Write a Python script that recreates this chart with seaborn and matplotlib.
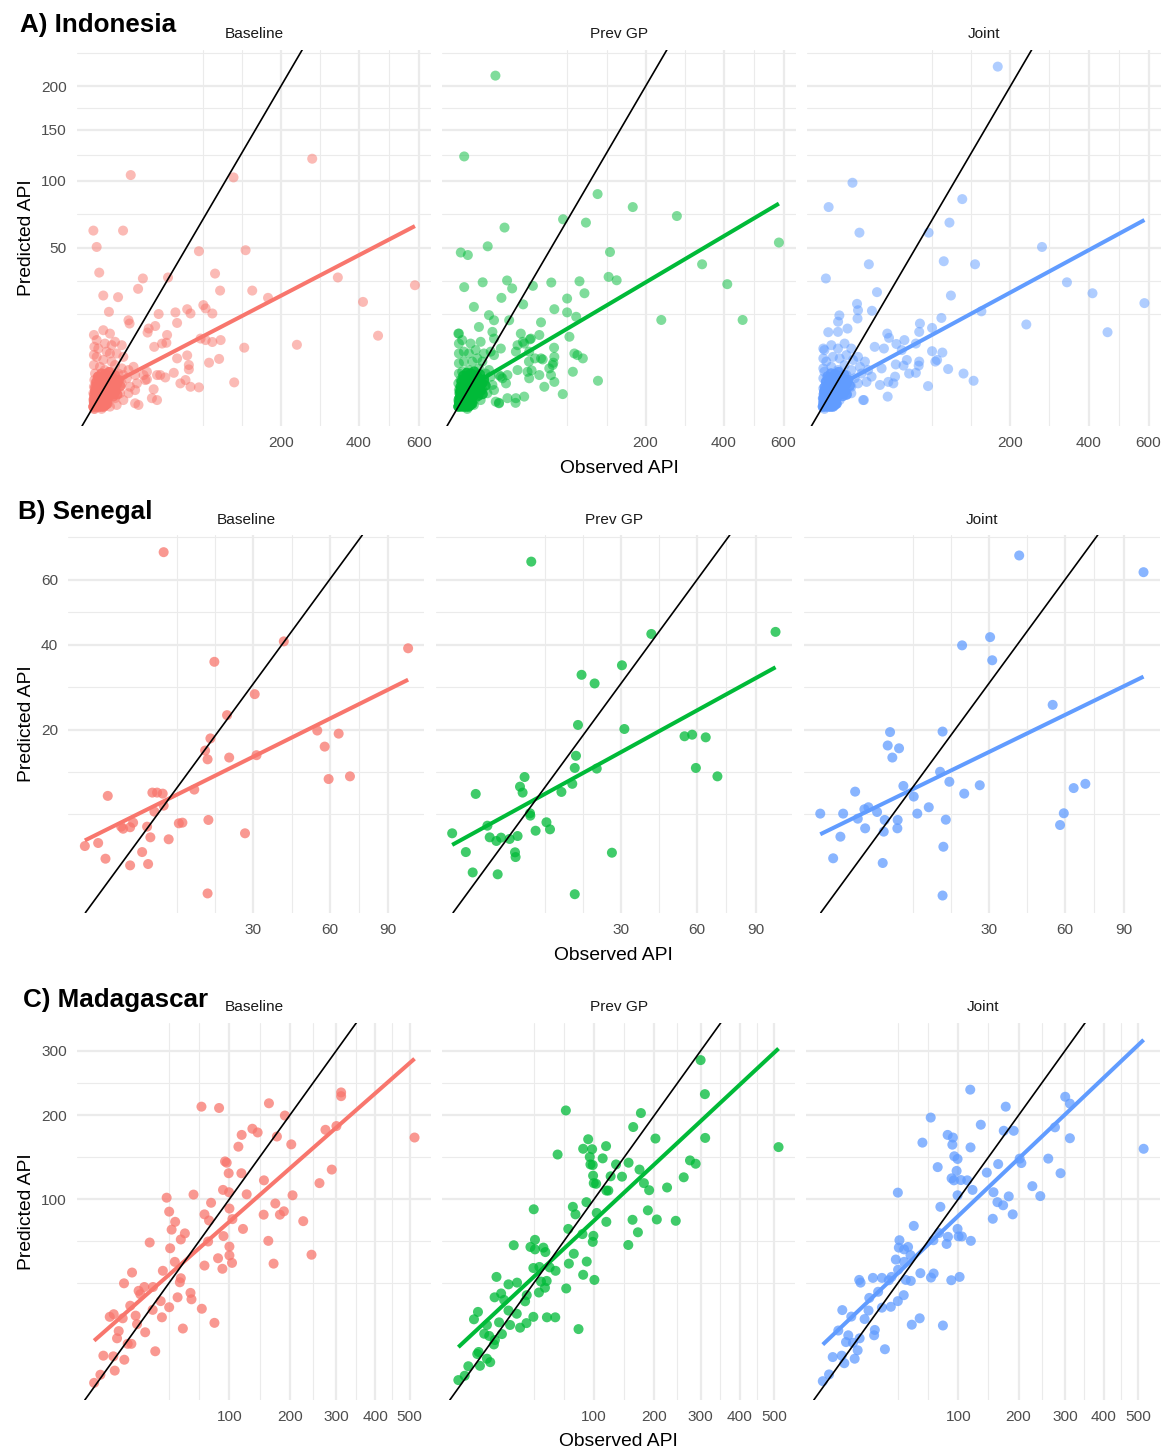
import numpy as np
import matplotlib
matplotlib.use("Agg")
import matplotlib.pyplot as plt
import seaborn as sns

sns.set_theme(style="white")
plt.rcParams['font.family'] = ['Liberation Sans', 'DejaVu Sans']

W, H = 1172, 1450
models = ["Baseline", "Prev GP", "Joint"]
colours = ["#F8766D", "#00BA38", "#619CFF"]

# (observed, predicted) pairs
indo_base = [
    (272, 120.3), (8.4, 105.1), (112.3, 103.0), (0.01, 61.1), (5.4, 61.1), (0.12, 50.4), (64.1, 47.8),
    (132.3, 48.4), (339, 33.2), (585, 29.4), (0.29, 35.7), (14.5, 32.7), (32.4, 33.2), (84.9, 35.2),
    (11.9, 27.7), (92.0, 26.9), (144, 26.9), (173.8, 23.7), (412, 22.0), (0.71, 24.7), (3.8, 24.0),
    (459, 10.3), (235.5, 7.9),
    (1.6, 18.1), (7.45, 15.1), (7.9, 14.0), (24.9, 17.3), (22.4, 13.2), (39.0, 17.9), (40.6, 14.2),
    (50.8, 19.1), (54.4, 17.5), (69.5, 20.7), (72.4, 19.4), (81.2, 17.5), (18.0, 12.4), (17.3, 11.2),
    (31.6, 10.5), (27.5, 8.2), (21.7, 7.4), (31.0, 8.4), (40.6, 4.9), (50.8, 5.5), (52.6, 3.7), (52.6, 3.0),
    (66.1, 9.5), (72.4, 9.1), (81.2, 8.6), (92.8, 9.1), (130, 7.2), (76.8, 4.1), (90.6, 4.8), (113.4, 1.35),
    (43.8, 1.25), (54.4, 0.94), (64.1, 0.89), (49.0, 1.6), (37.5, 2.5), (26.1, 2.2), (30.1, 1.9), (23.7, 2.2),
    (16.9, 1.68), (21.3, 0.74), (20.1, 0.22), (23.7, 0.15), (10.4, 0.06), (12.1, 0.03), (14.9, 2.2),
    (15.9, 1.6), (16.9, 2.65),
    (7.45, 2.9), (6.8, 1.8), (8.1, 0.94), (7.45, 0.47), (9.65, 3.4), (10.4, 2.2), (11.3, 1.25), (10.4, 0.68),
    (4.95, 7.8), (5.5, 5.2), (4.95, 3.15), (5.5, 2.2), (4.95, 1.25), (4.4, 0.47), (5.5, 0.15),
    (2.96, 8.65), (3.41, 5.9), (2.96, 3.7), (3.9, 2.4), (3.41, 1.4), (3.2, 0.68), (2.96, 0.22), (3.41, 0.03),
    (1.8, 10.9), (2.16, 7.8), (1.8, 5.9), (2.16, 4.3), (1.8, 2.65), (2.16, 1.8), (1.8, 0.94), (1.8, 0.47),
    (1.49, 0.15), (1.8, 0.01),
    (0.71, 11.9), (0.93, 8.2), (1.2, 6.3), (0.71, 4.6), (0.93, 2.9), (0.71, 1.6), (0.71, 0.81), (0.93, 0.37),
    (0.71, 0.1), (0.51, 0.0),
    (0.12, 9.1), (0.22, 7.0), (0.12, 5.2), (0.35, 3.4), (0.22, 2.0), (0.12, 1.25), (0.22, 0.68), (0.15, 0.29),
    (0.08, 0.06), (0.04, 0.0),
    (0.02, 10.5), (0.03, 7.4), (0.02, 5.6), (0.02, 3.7), (0.05, 2.4), (0.03, 1.6), (0.02, 0.94), (0.01, 0.47),
    (0.01, 0.15), (0.01, 0.01), (0.02, 0.0),
]
# the solid blob at the origin: each spot holds several overlapping points
indo_base_core = [
    (0.05, 0.02), (0.1, 0.05), (0.2, 0.1), (0.3, 0.02), (0.4, 0.2), (0.5, 0.08), (0.6, 0.3), (0.8, 0.15),
    (1.0, 0.4), (1.1, 0.05), (1.3, 0.25), (1.5, 0.6), (0.15, 0.45), (0.25, 0.7), (0.35, 0.9), (0.45, 1.1),
    (0.6, 0.55), (0.7, 0.75), (0.9, 1.0), (1.2, 0.85), (1.6, 1.2), (2.0, 0.9), (2.4, 1.3), (2.8, 1.0),
    (0.1, 1.4), (0.3, 1.7), (0.5, 1.3), (0.8, 1.9), (1.1, 1.5), (1.4, 2.1), (1.8, 1.6), (2.2, 2.0),
    (2.6, 1.7), (3.0, 1.4), (3.5, 1.2), (4.0, 1.6), (0.05, 0.6), (0.08, 0.3), (0.12, 0.8), (0.2, 1.0),
    (0.4, 0.45), (0.55, 0.65), (0.75, 0.35), (0.95, 0.6), (1.25, 0.45), (1.7, 0.35), (2.1, 0.55), (2.5, 0.3),
    (3.1, 0.6), (3.6, 0.4), (0.02, 0.2), (0.03, 0.4), (0.06, 0.9), (0.18, 0.3), (0.28, 0.55), (0.65, 0.12),
    (0.85, 0.5), (1.05, 0.8), (1.35, 1.0), (1.9, 0.75), (2.3, 0.45), (2.7, 0.8), (0.4, 1.5), (0.7, 1.2),
    (1.0, 2.3), (0.2, 2.0), (0.5, 2.4), (1.6, 2.6), (2.9, 2.2), (4.5, 1.0),
]
indo_prev = [
    (8.3, 213.5), (0.29, 122.5), (111.2, 88.7), (173.8, 78.3), (272, 71.5), (63.3, 69.1), (93.5, 66.7),
    (12.7, 63.2), (5.3, 50.8), (0.08, 47.0), (0.66, 45.5), (131.7, 47.3), (583, 53.2), (338, 40.2),
    (411, 29.9), (459, 15.2), (234.8, 15.2), (129.3, 33.5), (143.4, 31.8), (0.29, 28.5), (3.7, 30.8),
    (14.1, 31.7), (17.1, 27.9), (32.4, 29.1), (50.0, 30.7), (84.4, 31.3), (91.4, 25.7), (11.1, 23.7),
    (24.6, 21.0), (68.2, 23.4),
    (1.6, 20.0), (5.75, 16.9), (7.7, 15.1), (2.7, 12.9), (7.05, 11.4), (7.7, 9.5), (10.8, 7.0), (15.3, 15.1),
    (22.9, 10.9), (30.7, 9.5), (38.1, 10.5), (20.6, 7.8), (25.4, 8.2), (19.5, 6.3), (29.3, 6.3), (20.6, 2.9),
    (28.0, 2.65), (29.3, 1.8), (38.1, 2.2), (39.7, 4.9), (47.9, 3.15), (51.5, 3.7), (53.3, 5.2), (49.7, 2.2),
    (42.9, 0.94), (53.3, 1.4), (19.5, 0.22), (25.4, 0.29), (14.3, 0.22), (77.5, 5.9), (89.1, 4.9),
    (75.5, 2.65), (111.8, 1.52), (62.9, 0.42), (71.1, 10.0), (79.9, 16.3), (39.7, 14.4), (53.3, 19.1),
    (68.2, 17.9), (0.01, 10.9), (53, 7.2), (52.2, 4.1), (41.3, 4.7), (29.1, 4.3), (34.2, 4.9), (24.4, 8.65),
    (29.9, 9.3), (31.3, 2.85), (19.3, 0.07), (9.9, 0.07), (13.5, 1.25), (10.8, 2.0), (81.6, 5.56),
    (0.02, 10.9), (0.02, 8.2), (0.02, 5.9), (0.02, 4.0), (0.02, 2.4), (0.01, 1.25), (0.02, 0.68), (0.01, 0.15),
    (0.01, 0.01),
    (0.15, 9.1), (0.26, 6.3), (0.26, 4.3), (0.15, 2.65), (0.07, 1.6), (0.26, 0.81), (0.15, 0.29), (0.07, 0.03),
    (1.04, 8.2), (0.79, 5.9), (1.31, 4.3), (0.79, 2.9), (1.04, 1.8), (0.79, 0.94), (1.04, 0.47), (0.79, 0.1),
    (0.59, 0.0),
    (1.95, 6.65), (2.32, 4.9), (2.7, 3.15), (2.32, 2.0), (1.95, 1.1), (2.32, 0.68), (1.95, 0.22), (1.6, 0.03),
    (3.14, 8.65), (4.08, 5.9), (3.61, 4.3), (4.62, 2.4), (4.08, 1.4), (3.61, 0.68), (3.14, 0.15),
    (5.75, 2.9), (6.38, 2.0), (7.05, 1.1), (5.19, 0.47), (8.43, 0.1), (9.94, 0.06), (7.7, 0.68), (6.38, 6.3),
    (7.7, 5.56), (9.94, 2.2), (11.6, 1.8), (14.3, 2.2),
]
indo_prev_core = [
    (0.04, 0.03), (0.12, 0.08), (0.22, 0.15), (0.35, 0.04), (0.45, 0.25), (0.55, 0.1), (0.65, 0.35),
    (0.85, 0.2), (1.05, 0.45), (1.15, 0.08), (1.35, 0.3), (1.55, 0.7), (0.18, 0.5), (0.28, 0.75),
    (0.38, 0.95), (0.5, 1.15), (0.62, 0.6), (0.75, 0.8), (0.95, 1.05), (1.25, 0.9), (1.65, 1.25),
    (2.05, 0.95), (2.45, 1.35), (2.85, 1.05), (0.12, 1.45), (0.32, 1.75), (0.52, 1.35), (0.82, 2.0),
    (1.15, 1.55), (1.45, 2.2), (1.85, 1.65), (2.25, 2.05), (2.65, 1.75), (3.05, 1.45), (3.55, 1.25),
    (4.1, 1.65), (0.06, 0.65), (0.09, 0.32), (0.14, 0.85), (0.24, 1.05), (0.42, 0.48), (0.58, 0.7),
    (0.78, 0.38), (0.98, 0.65), (1.28, 0.5), (1.75, 0.4), (2.15, 0.6), (2.55, 0.33), (3.15, 0.65),
    (3.7, 0.42), (0.03, 0.22), (0.04, 0.45), (0.07, 0.95), (0.2, 0.33), (0.3, 0.6), (0.68, 0.14),
    (0.88, 0.55), (1.08, 0.85), (1.4, 1.05), (1.95, 0.8), (2.35, 0.5), (2.75, 0.85), (0.42, 1.55),
    (0.72, 1.25), (1.05, 2.4), (0.22, 2.1), (0.55, 2.5), (1.65, 2.7), (3.0, 2.3), (4.6, 1.05),
]
indo_joint = [
    (174.3, 225.2), (5.4, 98.3), (0.29, 78.3), (111.2, 84.6), (91.9, 66.7), (8.1, 59.7), (64.4, 59.7),
    (272.8, 50.4), (12.6, 40.2), (83.9, 41.9), (132.3, 40.2), (0.11, 32.7), (17.3, 26.2), (94, 24.7),
    (338, 30.8), (412, 25.7), (585, 21.5), (235.4, 13.7), (459, 11.3), (7.1, 21.2), (7.5, 18.7), (7.3, 15.7),
    (14.3, 18.5), (1.8, 16.8), (1.55, 14.6), (3.8, 12.4), (0.26, 11.3), (1.53, 11.4), (143.5, 18.3),
    (80.7, 15.9), (54.4, 14.0), (53.6, 11.4), (68.6, 12.6), (24.3, 10.9), (25.6, 9.7), (31.5, 8.1),
    (38.6, 9.1), (50.0, 8.2), (68.6, 6.4), (82.0, 6.1), (75.0, 4.6), (90.0, 3.05), (113.2, 2.4),
    (129.8, 1.52), (63.7, 1.0), (24.6, 0.29), (10.1, 0.15), (15.9, 7.4), (21.9, 7.0), (40.9, 4.6),
    (53.6, 4.3), (53, 3.6), (50, 2.5), (31.0, 3.8), (20.3, 3.15), (29.0, 1.25), (19.2, 1.1), (43.1, 2.4),
    (37.8, 3.6), (36.2, 6.65), (30.4, 2.0), (25.1, 1.4), (72.8, 4.3),
    (0.02, 7.0), (0.02, 4.9), (0.02, 3.15), (0.02, 1.8), (0.02, 0.81), (0.01, 0.22), (0.01, 0.01),
    (0.05, 6.65), (0.13, 4.3), (0.05, 2.65), (0.13, 1.4), (0.05, 0.57), (0.13, 0.1), (0.05, 0.0),
    (0.55, 7.8), (0.74, 5.2), (0.55, 3.4), (0.74, 2.0), (0.55, 0.94), (0.74, 0.29), (0.55, 0.01),
    (1.53, 7.0), (1.86, 4.9), (1.53, 2.9), (1.86, 1.6), (1.53, 0.68), (1.86, 0.15),
    (3.0, 8.2), (3.5, 5.56), (3.0, 3.7), (3.5, 2.2), (3.0, 1.1), (3.5, 0.37),
    (5.0, 7.0), (5.6, 4.6), (5.0, 2.9), (6.2, 1.8), (5.0, 0.94),
    (7.5, 5.2), (8.3, 3.4), (9.0, 2.4), (7.5, 1.25),
    (10.6, 4.3), (12.2, 2.9), (14.1, 2.0), (11.4, 1.4), (9.75, 0.15), (5.0, 0.47),
]
indo_joint_core = [
    (0.06, 0.02), (0.11, 0.06), (0.21, 0.12), (0.32, 0.03), (0.42, 0.22), (0.52, 0.09), (0.62, 0.32),
    (0.82, 0.17), (1.02, 0.42), (1.12, 0.06), (1.32, 0.27), (1.52, 0.62), (0.16, 0.47), (0.26, 0.72),
    (0.36, 0.92), (0.47, 1.12), (0.61, 0.57), (0.72, 0.77), (0.92, 1.02), (1.22, 0.87), (1.62, 1.22),
    (2.02, 0.92), (2.42, 1.32), (2.82, 1.02), (0.11, 1.42), (0.31, 1.72), (0.51, 1.32), (0.81, 1.92),
    (1.12, 1.52), (1.42, 2.12), (1.82, 1.62), (2.22, 2.02), (2.62, 1.72), (3.02, 1.42), (3.52, 1.22),
    (4.05, 1.62), (0.05, 0.62), (0.08, 0.31), (0.13, 0.82), (0.21, 1.02), (0.41, 0.46), (0.56, 0.67),
    (0.76, 0.36), (0.96, 0.62), (1.26, 0.47), (1.72, 0.37), (2.12, 0.57), (2.52, 0.31), (3.12, 0.62),
    (3.62, 0.41), (0.02, 0.21), (0.03, 0.42), (0.06, 0.92), (0.19, 0.31), (0.29, 0.57), (0.66, 0.13),
    (0.86, 0.52), (1.06, 0.82), (1.36, 1.02), (1.92, 0.77), (2.32, 0.47), (2.72, 0.82), (0.41, 1.52),
    (0.71, 1.22), (1.02, 2.32), (0.21, 2.02), (0.52, 2.42), (1.62, 2.62), (2.92, 2.22), (4.52, 1.02),
]
# the fully saturated corner right at the origin (near-zero in every model)
indo_corner = [
    (0.01, 0.01), (0.05, 0.02), (0.1, 0.01), (0.15, 0.05), (0.2, 0.02), (0.3, 0.08), (0.4, 0.03),
    (0.5, 0.1), (0.6, 0.02), (0.7, 0.06), (0.8, 0.12), (0.9, 0.04), (0.02, 0.08), (0.06, 0.15),
    (0.12, 0.1), (0.25, 0.18), (0.35, 0.12), (0.45, 0.2), (0.55, 0.05), (0.65, 0.15), (0.75, 0.22),
    (0.85, 0.09), (1.0, 0.03), (1.2, 0.1), (0.03, 0.03), (0.08, 0.05), (0.18, 0.02), (0.28, 0.01),
    (0.38, 0.07), (0.48, 0.01), (0.58, 0.12), (0.68, 0.04), (0.78, 0.01), (0.95, 0.14), (1.1, 0.2),
    (1.3, 0.05), (0.04, 0.12), (0.09, 0.22), (0.22, 0.25), (0.33, 0.2),
]
indo_core_count = 3  # overlapping points per spot in the blob

sen_base = [
    (7.86, 69.6), (40.7, 40.9), (101.6, 39.0), (18.6, 35.4), (30.4, 27.5), (22.0, 22.9), (54.4, 19.8),
    (64.2, 19.2), (17.6, 18.3), (16.3, 16.1), (57.7, 16.8), (16.9, 14.6), (22.6, 14.9), (31.0, 15.3),
    (59.5, 11.5), (69.7, 11.9), (1.30, 9.14), (6.09, 9.58), (6.80, 9.58), (7.70, 9.44), (13.8, 9.99),
    (7.86, 7.90), (6.39, 7.18), (2.37, 5.53), (3.26, 5.47), (3.59, 5.95), (2.55, 5.32), (5.34, 5.53),
    (10.6, 5.88), (11.3, 5.95), (17.1, 6.24), (5.80, 4.49), (8.72, 4.31), (27.3, 4.87), (0.21, 3.72),
    (0.73, 3.98), (1.15, 2.73), (4.68, 3.23), (3.26, 2.27), (5.48, 2.36), (16.9, 0.80),
]
sen_prev = [
    (7.86, 66.2), (40.7, 43.0), (101.6, 43.6), (30.3, 34.5), (18.5, 32.1), (22.0, 30.0), (17.6, 20.9),
    (31.1, 20.1), (54.3, 18.7), (57.7, 19.0), (64.0, 18.5), (17.1, 15.2), (16.8, 13.2), (22.6, 13.1),
    (59.4, 13.2), (69.7, 11.9), (6.78, 11.8), (6.09, 10.4), (6.48, 9.58), (16.2, 10.8), (13.7, 9.67),
    (1.32, 9.40), (7.65, 6.99), (7.70, 6.72), (10.6, 5.99), (11.3, 5.26), (8.6, 5.12), (2.24, 5.63),
    (0.20, 4.87), (2.45, 4.49), (3.11, 4.16), (3.62, 4.46), (4.66, 4.34), (5.74, 4.61), (0.73, 3.23),
    (5.38, 3.21), (5.46, 2.85), (27.1, 3.18), (1.12, 1.83), (3.25, 1.72), (16.8, 0.77),
]
sen_joint = [
    (40.7, 68.4), (101.6, 62.5), (30.4, 42.1), (21.9, 39.8), (31.1, 35.8), (54.4, 25.1), (6.43, 19.5),
    (16.8, 19.6), (6.08, 17.0), (7.86, 16.5), (6.78, 14.9), (16.2, 12.6), (18.5, 11.1), (27.1, 10.6),
    (8.6, 10.5), (64.0, 10.2), (69.7, 10.8), (2.24, 9.71), (10.5, 9.05), (22.5, 9.44), (13.6, 7.70),
    (0.21, 6.95), (1.30, 6.95), (3.14, 7.46), (3.58, 7.70), (4.62, 7.14), (2.48, 6.38), (5.65, 6.24),
    (7.63, 6.24), (11.2, 6.95), (17.6, 6.27), (59.4, 6.99), (57.7, 5.70), (3.22, 5.36), (5.51, 5.03),
    (7.58, 5.36), (1.12, 4.55), (17.0, 3.66), (0.71, 2.76), (5.37, 2.43), (16.8, 0.72),
]

mad_base = [
    (65.3, 212.2), (86.3, 210.3), (161.6, 217.1), (190.6, 199.6), (312.1, 233.2), (312.1, 227.6),
    (134.0, 181.6), (142.5, 176.7), (175.8, 171.4), (117.5, 173.5), (112.7, 158.5), (202.9, 161.4),
    (275.3, 180.2), (300.8, 185.2), (515.5, 170.1), (94.1, 140.7), (96.3, 139.2), (99.0, 127.2),
    (117.1, 127.2), (289.8, 131.3), (153.0, 119.4), (261.8, 116.4), (91.4, 109.3), (99.5, 106.9),
    (125.1, 104.8), (205.4, 103.8), (32.4, 101.4), (56.8, 104.5), (76.4, 96.4), (100.0, 90.9),
    (172.9, 95.7), (188.7, 88.3), (68.7, 85.5), (74.0, 80.0), (104.1, 81.2), (152.5, 85.2), (181.3, 85.2),
    (227.0, 79.4), (34.4, 88.0), (39.4, 78.8), (36.4, 72.1), (48.2, 69.0), (44.4, 64.1), (35.2, 57.3),
    (20.5, 61.7), (92.0, 66.8), (72.9, 62.5), (119.5, 72.7), (100.0, 58.6), (100.0, 52.1), (103.6, 46.9),
    (85.0, 50.1), (160.5, 63.0), (169.8, 46.4), (244.4, 52.6), (68.7, 45.1), (90.6, 43.0), (39.1, 47.6),
    (29.5, 41.7), (11.0, 40.6), (7.65, 34.1), (44.4, 37.1), (43.5, 34.7), (17.3, 32.0), (22.6, 32.0),
    (14.2, 29.9), (15.1, 28.1), (53.7, 28.8), (54.7, 25.5), (27.9, 24.6), (41.5, 26.5), (10.2, 22.4),
    (22.4, 20.5), (34.4, 21.7), (65.7, 21.0), (4.24, 18.6), (3.19, 17.5), (7.16, 16.9), (12.7, 18.0),
    (13.4, 14.6), (28.8, 17.3), (80.5, 15.1), (46.3, 13.0), (5.77, 12.1), (17.8, 11.7), (5.23, 9.75),
    (9.11, 8.12), (10.7, 8.12), (24.1, 6.16), (1.82, 5.13), (4.13, 4.98), (7.76, 4.26), (4.53, 2.33),
    (1.31, 1.75), (0.51, 0.85),
]
mad_prev = [
    (300.1, 284.5), (310.4, 230.6), (311.1, 169.6), (514.5, 158.0), (64.9, 206.8), (174.7, 203.1),
    (161.0, 183.9), (202.1, 168.8), (92.0, 167.9), (85.5, 155.9), (97.3, 155.4), (117.1, 159.2),
    (56.1, 148.9), (94.1, 146.0), (112.1, 144.3), (95.0, 137.2), (98.1, 136.5), (132.4, 137.2),
    (153.0, 139.2), (275.3, 141.9), (288.4, 138.0), (172.2, 131.3), (98.6, 124.5), (124.0, 123.8),
    (142.0, 123.4), (261.2, 122.7), (99.5, 116.4), (102.8, 115.7), (180.2, 116.4), (117.5, 108.6),
    (120.5, 108.6), (190.0, 109.0), (225.5, 111.8), (89.7, 97.0), (72.9, 92.5), (76.0, 85.5), (103.6, 86.8),
    (187.6, 89.2), (204.8, 80.9), (243.8, 79.7), (159.8, 80.6), (117.5, 78.8), (34.2, 90.2), (67.6, 72.7),
    (84.6, 68.4), (99.0, 67.0), (98.1, 62.2), (169.3, 69.9), (152.5, 59.8), (20.0, 59.6), (31.6, 58.3),
    (35.2, 63.8), (35.2, 56.5), (42.4, 57.8), (44.2, 54.5), (74.0, 53.3), (68.3, 46.4), (90.1, 47.8),
    (33.9, 43.5), (38.9, 44.2), (48.2, 43.9), (54.0, 41.7), (85.5, 39.2), (100.4, 36.1), (10.8, 37.9),
    (16.9, 33.5), (22.1, 34.5), (40.3, 35.1), (45.4, 35.5), (43.8, 31.6), (38.5, 29.0), (65.3, 31.2),
    (9.96, 26.5), (13.0, 28.5), (14.5, 25.2), (28.8, 27.6), (27.6, 24.5), (16.9, 20.2), (21.9, 18.8),
    (4.05, 19.6), (3.02, 16.5), (33.9, 17.5), (45.6, 17.3), (53.7, 17.3), (12.0, 15.3), (17.8, 14.3),
    (28.6, 15.0), (24.1, 13.3), (79.7, 12.8), (6.91, 14.3), (5.97, 11.2), (7.76, 10.5), (13.4, 11.1),
    (10.1, 9.22), (9.66, 7.95), (4.24, 5.99), (3.86, 5.51), (6.91, 4.47), (8.15, 3.78), (4.62, 3.11),
    (1.82, 3.04), (1.21, 1.62), (0.44, 1.12),
]
mad_joint = [
    (117.1, 237.4), (300.8, 226.7), (312.1, 216.6), (175.8, 212.2), (65.7, 196.8), (133.3, 187.0),
    (276.9, 183.5), (172.2, 178.9), (190.6, 178.9), (85.9, 173.5), (92.7, 170.1), (312.1, 169.2),
    (56.8, 163.6), (92.0, 161.0), (117.5, 157.6), (516.7, 155.9), (94.6, 146.8), (99.0, 143.6),
    (261.8, 144.0), (202.1, 144.0), (205.4, 138.8), (162.3, 137.6), (73.7, 134.1), (143.0, 127.9),
    (97.7, 129.8), (289.8, 127.2), (91.0, 121.6), (94.1, 119.4), (103.6, 119.7), (112.7, 119.4),
    (227.6, 113.2), (120.5, 109.3), (154.2, 106.9), (181.3, 102.7), (99.0, 103.8), (244.4, 103.0),
    (34.2, 106.5), (161.0, 97.0), (171.1, 94.0), (76.9, 92.5), (188.7, 85.5), (153.0, 81.5), (48.2, 75.3),
    (99.0, 72.7), (75.2, 69.3), (86.3, 66.2), (100.4, 66.5), (105.0, 66.5), (118.0, 63.0), (68.7, 63.5),
    (84.6, 60.6), (35.5, 63.5), (35.0, 57.8), (42.9, 58.3), (39.4, 56.5), (45.1, 52.3), (32.6, 49.2),
    (39.4, 47.6), (34.4, 42.4), (54.7, 40.2), (69.0, 40.0), (66.0, 37.5), (90.6, 35.9), (101.8, 37.9),
    (10.2, 36.1), (10.8, 34.5), (17.1, 37.3), (22.6, 37.3), (27.3, 35.9), (29.3, 37.9), (40.9, 36.1),
    (45.4, 35.5), (20.2, 29.4), (15.1, 26.2), (39.1, 27.6), (34.2, 24.6), (22.6, 21.5), (28.8, 21.9),
    (4.13, 20.4), (7.02, 17.6), (14.7, 20.2), (12.7, 16.6), (54.0, 16.9), (46.3, 14.4), (80.0, 14.1),
    (3.09, 12.3), (5.97, 10.7), (18.2, 12.5), (17.8, 10.7), (10.4, 9.75), (5.23, 8.62), (7.65, 8.41),
    (9.53, 6.41), (24.6, 6.67), (1.89, 4.82), (3.97, 5.13), (4.71, 3.58), (8.30, 4.47), (1.26, 1.79),
    (0.48, 1.01),
]

indo_x_breaks, indo_y_breaks = [200, 400, 600], [50, 100, 150, 200]
sen_x_breaks, sen_y_breaks = [30, 60, 90], [20, 40, 60]
mad_x_breaks, mad_y_breaks = [100, 200, 300, 400, 500], [100, 200, 300]

countries = ["A) Indonesia", "B) Senegal", "C) Madagascar"]
row_data = [
    (indo_base + (indo_base_core + indo_corner) * indo_core_count,
     indo_prev + (indo_prev_core + indo_corner) * indo_core_count,
     indo_joint + (indo_joint_core + indo_corner) * indo_core_count,
     indo_x_breaks, indo_y_breaks, 0.5),
    (sen_base, sen_prev, sen_joint, sen_x_breaks, sen_y_breaks, 0.75),
    (mad_base, mad_prev, mad_joint, mad_x_breaks, mad_y_breaks, 0.75),
]

# layout in pixels: panel x-extents, panel y-extent, title x, title/strip/xlab baselines
layout = [
    dict(px=[(77.3, 431), (442.3, 795.5), (806.7, 1160.5)], py=(49.5, 426),
         tx=20, ty=32.3, sy=38.3, xly=473.3),
    dict(px=[(68.3, 424.3), (436, 791.7), (803.7, 1159.7)], py=(535, 912.7),
         tx=18.3, ty=519.3, sy=524.3, xly=960),
    dict(px=[(77.3, 431), (442.3, 795.3), (806.3, 1159.7)], py=(1022.7, 1400),
         tx=22.7, ty=1006.7, sy=1011, xly=1445.7),
]


def sqrt_fwd(v):
    v = np.asarray(v, dtype=float)
    return np.sign(v) * np.sqrt(np.abs(v))


def sqrt_inv(v):
    v = np.asarray(v, dtype=float)
    return np.sign(v) * v ** 2


def minor_breaks(breaks, lims):
    # same rule as ggplot's regular_minor_breaks, on the sqrt scale
    b = list(np.sqrt(breaks))
    bd = b[1] - b[0]
    if lims[0] < b[0]:
        b = [b[0] - bd] + b
    if lims[1] > b[-1]:
        b = b + [b[-1] + bd]
    out = []
    for lo, hi in zip(b[:-1], b[1:]):
        out += [lo, (lo + hi) / 2]
    out.append(b[-1])
    out = [m for m in out if lims[0] <= m <= lims[1]]
    return sqrt_inv(out)


fig = plt.figure(figsize=(W / 100, H / 100), dpi=100)

for r, (base, prev, joint, xb, yb, alpha) in enumerate(row_data):
    lay = layout[r]
    sets = [np.array(p, dtype=float).T for p in (base, prev, joint)]

    # lm fit on the sqrt scale (as geom_smooth does after the scale transform)
    fits, xs, ys = [], [], []
    for obs, pred in sets:
        sx, sy = np.sqrt(obs), np.sqrt(pred)
        k, c = np.polyfit(sx, sy, 1)
        ends = np.array([sx.min(), sx.max()])
        fits.append((ends, k * ends + c))
        xs.append(sx)
        ys += [sy, k * ends + c]
    xs, ys = np.concatenate(xs), np.concatenate(ys)
    xpad, ypad = 0.05 * (xs.max() - xs.min()), 0.05 * (ys.max() - ys.min())
    xlim = (xs.min() - xpad, xs.max() + xpad)
    ylim = (ys.min() - ypad, ys.max() + ypad)

    y0, y1 = lay["py"]
    for i, (obs, pred) in enumerate(sets):
        x0, x1 = lay["px"][i]
        ax = fig.add_axes([x0 / W, 1 - y1 / H, (x1 - x0) / W, (y1 - y0) / H])
        sns.scatterplot(x=obs, y=pred, ax=ax, color=colours[i], alpha=alpha, s=52,
                        edgecolor="none", linewidth=0, zorder=2)
        ax.set_xscale("function", functions=(sqrt_fwd, sqrt_inv))
        ax.set_yscale("function", functions=(sqrt_fwd, sqrt_inv))
        ends, fitted = fits[i]
        ax.plot(sqrt_inv(ends), sqrt_inv(fitted), color=colours[i], lw=2.9,
                solid_capstyle="butt", zorder=3)
        ax.axline((1, 1), (100, 100), color="black", lw=1.2, zorder=4)

        ax.set_xlim(sqrt_inv(xlim[0]), sqrt_inv(xlim[1]))
        ax.set_ylim(sqrt_inv(ylim[0]), sqrt_inv(ylim[1]))
        ax.set_xticks(xb, labels=[str(v) for v in xb])
        ax.set_yticks(yb, labels=[str(v) for v in yb])
        ax.set_xticks(minor_breaks(xb, xlim), minor=True)
        ax.set_yticks(minor_breaks(yb, ylim), minor=True)
        ax.grid(which="minor", color="#EBEBEB", lw=0.8)
        ax.grid(which="major", color="#EBEBEB", lw=1.6)
        ax.set_axisbelow(True)
        ax.tick_params(which="both", length=0, pad=7.5, labelsize=11.1, labelcolor="#4D4D4D")
        if i > 0:
            ax.tick_params(labelleft=False)
        ax.set_xlabel("")
        ax.set_ylabel("")
        for s in ax.spines.values():
            s.set_visible(False)

        fig.text(((x0 + x1) / 2) / W, 1 - lay["sy"] / H, models[i], ha="center", va="baseline",
                 fontsize=11.1, color="#1A1A1A")

    mid = lay["px"][1]
    fig.text(((mid[0] + mid[1]) / 2) / W, 1 - lay["xly"] / H, "Observed API",
             ha="center", va="baseline", fontsize=13.9, color="black")
    fig.text(30.7 / W, 1 - ((y0 + y1) / 2) / H, "Predicted API", rotation=90,
             rotation_mode="anchor", ha="center", va="baseline", fontsize=13.9, color="black")
    fig.text(lay["tx"] / W, 1 - lay["ty"] / H, countries[r], ha="left", va="baseline",
             fontsize=18.7, fontweight="bold", color="black")

fig.savefig("out.png", dpi=100)
